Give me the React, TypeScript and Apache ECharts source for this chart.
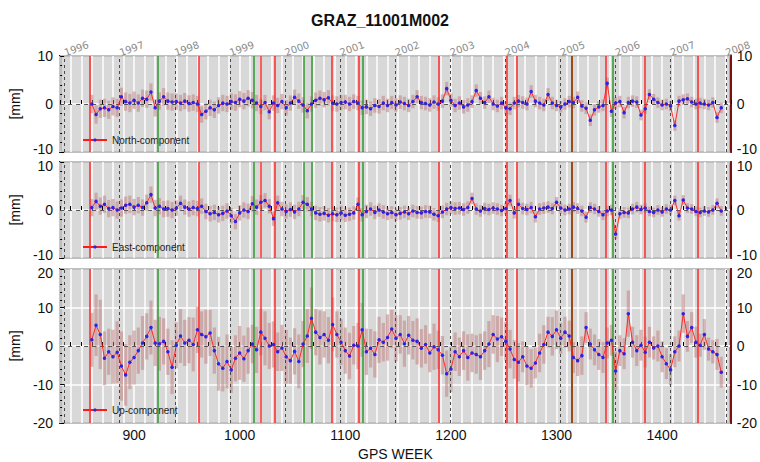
import React, { useEffect, useRef } from 'react';
import * as echarts from 'echarts';

const FONT = '"Liberation Sans", Arial, Helvetica, sans-serif';

const TITLE = 'GRAZ_11001M002';
const START_WEEK = 860;
const STEP_WEEKS = 4;

// North component [mm], one value every 4 GPS weeks from week 860
const northValues = [
  0.0, -2.2, -1.0, -0.8, -1.2, -0.5, -0.8, 1.5, 0.5, 0.2,
  0.8, 0.2, 1.2, 1.0, 2.5, -0.8, 0.6, 1.5, 0.6, 0.4,
  0.5, 0.2, 0.6, 0.1, 0.3, 0.0, -2.2, -1.5, -0.8, -1.2,
  -0.3, 0.2, 0.0, 0.5, 0.3, 1.0, 0.6, 1.2, 0.8, 0.2,
  -0.5, 0.3, -1.6, 0.2, -0.3, 0.5, -0.8, 0.2, 1.4, 0.6,
  -0.2, -1.4, 0.0, 0.8, 1.2, 0.9, 1.3, 0.2, 0.0, 0.3,
  0.4, 0.0, 0.5, 0.2, -0.8, -0.6, -1.0, -0.3, -0.5, 0.2,
  -0.3, 0.3, -0.2, 0.4, 0.1, -0.3, 0.5, 1.5, 0.3, 0.1,
  -0.2, 0.4, 0.0, 0.6, 3.2, 0.8, -0.3, 0.2, -0.6, -0.2,
  0.5, 2.8, 1.2, 0.3, 1.5, 0.0, -0.4, 0.2, -0.8, -1.0,
  0.2, 0.6, 0.3, 0.0, 2.6, 0.6, 0.2, -0.2, 2.0, 0.2,
  -0.3, -0.6, 0.0, 0.5, 0.3, 1.4, -0.4, -0.9, -3.4, -1.2,
  -0.6, -0.3, 4.3, -1.5, 0.2, 0.5, -1.8, 0.3, 0.6, 0.4,
  -2.3, -1.0, 2.0, 1.0, 0.3, -0.2, 0.0, -0.4, -4.5, 0.6,
  0.9, 1.1, 0.4, 0.0, 0.2, 0.0, -0.2, 0.3, -2.8, -0.8,
];

// East component [mm]
const eastValues = [
  0.5, 1.8, 0.8, 1.2, 0.3, 0.5, 0.0, 0.4, 1.0, 1.2,
  0.6, 1.0, 0.5, 1.5, 3.2, 0.4, 0.8, 0.2, 0.3, 0.0,
  0.4, 1.4, 0.6, 0.2, 0.5, 0.3, 0.8, -0.3, -0.8, -0.5,
  -1.0, -0.7, -0.2, -1.2, -2.4, -0.6, 0.0, -0.3, 1.3, 0.6,
  1.6, 2.0, 0.8, -1.8, 1.5, 0.2, -0.3, 0.1, -0.4, 0.2,
  1.6, 1.2, 0.2, -0.6, -0.9, -0.7, -1.1, -0.8, -1.0, -0.6,
  -1.1, -0.9, -0.6, 1.2, -1.0, -0.3, 0.2, -0.5, 0.0, -0.4,
  -0.8, -0.5, -1.0, -0.7, -0.4, -0.8, -0.2, -0.5, -0.6, -0.3,
  -0.4, -0.9, -1.2, -0.4, 0.2, 0.5, 0.3, 0.4, 0.1, 0.5,
  2.4, 0.2, -0.2, 0.3, 0.1, 0.4, 0.2, -0.1, 0.3, 2.0,
  -0.6, 1.2, 0.3, 0.1, 0.5, -1.4, 0.2, 0.4, 0.6, 0.3,
  1.6, 0.4, 0.0, 0.2, 0.6, 0.3, -0.2, -1.5, 0.5, 0.2,
  -0.3, -1.0, -0.2, 0.0, -5.0, -0.8, -0.5, -0.6, 0.2, 0.6,
  0.1, 0.4, -0.3, -0.5, 0.0, -0.4, 0.2, 0.0, 2.0, -1.2,
  2.1, 0.4, 0.2, -0.3, -0.5, -0.2, -0.4, 0.0, 1.4, -0.2,
];

// Up component [mm]
const upValues = [
  1.6, 5.4, 3.0, -3.2, -1.5, -2.8, -1.6, -5.2, -7.5, -4.2,
  -3.0, -1.2, 0.8, 2.5, 4.8, 0.8, 0.6, 1.2, -1.5, -5.5,
  0.2, 2.6, 0.8, 1.5, 0.4, 4.2, 3.0, 2.4, 3.4, -1.2,
  -4.6, -5.8, -4.0, -6.2, -3.2, -1.8, -3.3, -1.2, 0.5, -1.0,
  3.6, 2.0, 0.0, 0.4, -1.5, -0.5, -2.8, -3.8, -1.4, -4.0,
  0.5, 2.6, 7.2, 3.6, 2.2, 3.0, 1.5, 5.6, 3.0, 1.0,
  -1.2, -2.6, 0.2, 0.0, 4.2, -1.5, -0.6, -2.2, 1.6, 1.0,
  2.2, 4.4, 2.0, 3.0, 0.6, 2.8, 1.5, 1.2, -0.6, 0.4,
  -1.8, -0.2, -1.0, -2.4, -7.2, -6.0, -1.5, -2.8, -1.2, -3.0,
  -1.8, -2.2, -2.8, -1.2, 0.5, 3.0, 1.8, 2.4, 1.2, -0.8,
  -3.5, -4.2, -2.8, -5.2, -5.8, -4.4, -1.8, 0.4, 3.6, 2.5,
  4.2, 2.0, 3.6, 2.6, -3.0, -3.8, -2.5, 4.8, 0.5, -1.0,
  -2.2, -3.0, 0.8, 1.5, -6.5, -1.2, -2.0, 8.4, 1.0, -1.2,
  0.2, -1.6, 1.0, -0.5, 0.0, -2.8, -4.6, -6.2, -1.5, 0.0,
  8.4, 2.5, 4.8, 1.0, 0.2, 3.0, -0.8, -1.5, -2.2, -6.8,
];

// Up formal error (half bar length) [mm], per point
const upSigma = [
  7, 8, 9, 7, 6, 7, 8, 9, 8, 7,
  7, 6, 7, 6, 7, 6, 7, 6, 6, 7,
  6, 7, 6, 6, 7, 6, 6, 7, 6, 6,
  7, 6, 7, 6, 6, 7, 6, 6, 5, 6,
  6, 7, 6, 6, 5, 6, 7, 6, 6, 7,
  6, 7, 8, 6, 7, 6, 6, 7, 6, 6,
  6, 6, 5, 6, 7, 6, 5, 6, 6, 5,
  6, 5, 6, 5, 6, 5, 5, 6, 5, 5,
  5, 6, 5, 5, 6, 6, 5, 5, 5, 6,
  5, 5, 6, 5, 6, 5, 6, 5, 5, 5,
  5, 5, 4, 5, 5, 4, 5, 5, 4, 5,
  5, 4, 4, 4, 4, 4, 5, 4, 4, 4,
  4, 4, 4, 4, 5, 4, 4, 6, 4, 4,
  4, 4, 4, 3, 4, 4, 4, 4, 4, 4,
  5, 4, 4, 4, 3, 4, 3, 3, 4, 4,
];

// North / East formal errors [mm], one per 40-week block (10 points)
const northSigma = [1.9, 1.8, 1.7, 1.7, 1.6, 1.6, 1.5, 1.4, 1.4, 1.3, 1.3, 1.2, 1.2, 1.1, 1.1];
const eastSigma = [1.8, 1.7, 1.6, 1.6, 1.5, 1.5, 1.4, 1.3, 1.3, 1.2, 1.2, 1.1, 1.1, 1.0, 1.0];

// GPS week of 1 January of each year
const yearStarts = [834.1, 886.4, 938.6, 990.7, 1042.9, 1095.1, 1147.3, 1199.4, 1251.6, 1303.9, 1356.0, 1408.1, 1460.3];
const yearLabels = ['1996', '1997', '1998', '1999', '2000', '2001', '2002', '2003', '2004', '2005', '2006', '2007', '2008'];

// Station events (GPS week)
const redEvents = [858.5, 961.0, 1020.4, 1033.6, 1087.2, 1112.6, 1188.9, 1252.9, 1262.3, 1347.0, 1383.8, 1433.6];
const greenEvents = [922.5, 1013.8, 1060.9, 1068.4, 1116.4, 1353.6];
const brownEvents = [1314.1];

const panelNames = ['North-component', 'East-component', 'Up-component'];
const X_MIN = 830;
const X_MAX = 1465;

export default function App() {
  const ref = useRef<HTMLDivElement>(null);

  useEffect(() => {
    if (!ref.current) return;
    const chart = echarts.init(ref.current, null, { renderer: 'svg' });

    const weeks = northValues.map((_, i) => START_WEEK + i * STEP_WEEKS);

    const grids = [
      { left: 58, right: 28, top: 56, height: 96 },
      { left: 58, right: 28, top: 162, height: 96 },
      { left: 58, right: 28, top: 269, height: 158 },
    ];
    const yRanges = [[-10, 10], [-10, 10], [-20, 20]];
    const legendTops = [135, 242, 405];

    const panelData = [
      northValues.map((v, i) => [weeks[i], v, northSigma[Math.floor(i / 10)]]),
      eastValues.map((v, i) => [weeks[i], v, eastSigma[Math.floor(i / 10)]]),
      upValues.map((v, i) => [weeks[i], v, upSigma[i]]),
    ];

    const markData: any[] = [];
    yearStarts.forEach((w) =>
      markData.push({ xAxis: w, lineStyle: { color: '#4a4a4a', type: [3, 3], width: 1 } })
    );
    redEvents.forEach((w) =>
      markData.push({ xAxis: w, lineStyle: { color: '#ff2a2a', type: 'solid', width: 1.5 } })
    );
    greenEvents.forEach((w) =>
      markData.push({ xAxis: w, lineStyle: { color: '#2f9a2f', type: 'solid', width: 1.5 } })
    );
    brownEvents.forEach((w) =>
      markData.push({ xAxis: w, lineStyle: { color: '#9c4a1a', type: 'solid', width: 2 } })
    );
    markData.push({ yAxis: 0, lineStyle: { color: '#555', type: [4, 4], width: 1 } });

    const xAxes: any[] = grids.map((_, gi) => ({
      type: 'value',
      gridIndex: gi,
      min: X_MIN,
      max: X_MAX,
      interval: 10,
      axisLine: { show: false },
      axisTick: { show: true, inside: true, length: 4, lineStyle: { color: '#000', width: 1 } },
      splitLine: { show: true, lineStyle: { color: '#ffffff', width: 1.5 } },
      axisLabel: {
        show: gi === 2,
        fontSize: 14,
        color: '#111',
        fontFamily: FONT,
        margin: 5,
        showMaxLabel: false,
        showMinLabel: false,
        formatter: (v: number) => (v % 100 === 0 ? String(v) : ''),
      },
      name: gi === 2 ? 'GPS WEEK' : '',
      nameLocation: 'middle',
      nameGap: 24,
      nameTextStyle: { fontSize: 14, color: '#111', fontFamily: FONT },
    }));
    xAxes.push({
      type: 'value',
      gridIndex: 0,
      position: 'top',
      min: X_MIN,
      max: X_MAX,
      axisLine: { show: false },
      axisTick: { show: false },
      splitLine: { show: false },
      axisLabel: {
        show: true,
        customValues: yearStarts,
        rotate: 20,
        fontSize: 10,
        color: '#8a8a8a',
        fontFamily: 'DejaVu Sans, sans-serif',
        margin: 3,
        formatter: (v: number) => {
          const idx = yearStarts.findIndex((y) => Math.abs(y - v) < 0.5);
          return idx >= 0 ? yearLabels[idx] : '';
        },
      },
    });

    // nudge the touching end labels of stacked panels apart
    const yLabelFormatter = (gi: number) => (v: number) => {
      const [mn, mx] = yRanges[gi];
      if (v === mn && gi < 2) return '{up|' + v + '}';
      if (v === mx && gi > 0) return '{down|' + v + '}';
      return '{n|' + v + '}';
    };
    const yRich = {
      n: { fontSize: 14, color: '#111', fontFamily: FONT },
      up: { fontSize: 14, color: '#111', fontFamily: FONT, padding: [0, 0, 7, 0] },
      down: { fontSize: 14, color: '#111', fontFamily: FONT, padding: [7, 0, 0, 0] },
    };

    const yAxes: any[] = [];
    grids.forEach((_, gi) => {
      const [mn, mx] = yRanges[gi];
      yAxes.push({
        type: 'value',
        gridIndex: gi,
        position: 'left',
        min: mn,
        max: mx,
        interval: 10,
        axisLine: { show: false },
        axisTick: { show: true, inside: true, length: 4, lineStyle: { color: '#000' } },
        minorTick: { show: true, splitNumber: 5, length: 2, lineStyle: { color: '#000' } },
        splitLine: { show: true, lineStyle: { color: '#ffffff', width: 1.5 } },
        axisLabel: { margin: 7, formatter: yLabelFormatter(gi), rich: yRich },
        name: '[mm]',
        nameLocation: 'middle',
        nameRotate: 90,
        nameGap: 30,
        nameTextStyle: { fontSize: 14, color: '#111', fontFamily: FONT },
      });
      yAxes.push({
        type: 'value',
        gridIndex: gi,
        position: 'right',
        min: mn,
        max: mx,
        interval: 10,
        axisLine: { show: true, lineStyle: { color: '#7a1010', width: 2 } },
        axisTick: { show: false },
        splitLine: { show: false },
        axisLabel: { margin: 6, formatter: yLabelFormatter(gi), rich: yRich },
      });
    });

    const series: any[] = [];
    panelData.forEach((data, gi) => {
      series.push({
        type: 'custom',
        name: panelNames[gi] + ' error',
        xAxisIndex: gi,
        yAxisIndex: gi * 2,
        silent: true,
        clip: true,
        z: 2,
        encode: { x: 0, y: 1 },
        data,
        renderItem: (params: any, api: any) => {
          const x = api.value(0);
          const y = api.value(1);
          const s = api.value(2);
          const p1 = api.coord([x, y - s]);
          const p2 = api.coord([x, y + s]);
          return {
            type: 'line',
            shape: { x1: p1[0], y1: p1[1], x2: p2[0], y2: p2[1] },
            style: { stroke: 'rgba(190, 122, 120, 0.5)', lineWidth: 3.2 },
          };
        },
      });
      series.push({
        type: 'line',
        name: panelNames[gi],
        xAxisIndex: gi,
        yAxisIndex: gi * 2,
        z: 6,
        data: data.map((d) => [d[0], d[1]]),
        symbol: 'circle',
        symbolSize: 3.5,
        showSymbol: true,
        lineStyle: { color: '#ff1a1a', width: 0.9 },
        itemStyle: { color: '#2e22e6', borderWidth: 0 },
        markLine: {
          silent: true,
          symbol: ['none', 'none'],
          label: { show: false },
          animation: false,
          data: markData,
        },
      });
    });

    const legends = panelNames.map((name, gi) => ({
      data: [name],
      left: 82,
      top: legendTops[gi],
      padding: 0,
      itemWidth: 24,
      itemHeight: 4,
      itemGap: 4,
      selectedMode: false,
      textStyle: { fontSize: 10, color: '#222', fontFamily: FONT },
    }));

    chart.setOption({
      animation: false,
      backgroundColor: '#ffffff',
      textStyle: { fontFamily: FONT },
      title: {
        text: TITLE,
        left: 'center',
        top: 7,
        textStyle: { fontSize: 16, fontWeight: 'bold', color: '#111', fontFamily: FONT },
      },
      legend: legends,
      grid: grids.map((g) => ({
        ...g,
        show: true,
        backgroundColor: '#d8d8d8',
        borderColor: '#000',
        borderWidth: 2,
      })),
      xAxis: xAxes,
      yAxis: yAxes,
      series,
    });

    return () => chart.dispose();
  }, []);

  return (
    <div
      ref={ref}
      style={{ position: 'fixed', left: 0, top: 0, width: 760, height: 462, background: '#fff' }}
    />
  );
}
